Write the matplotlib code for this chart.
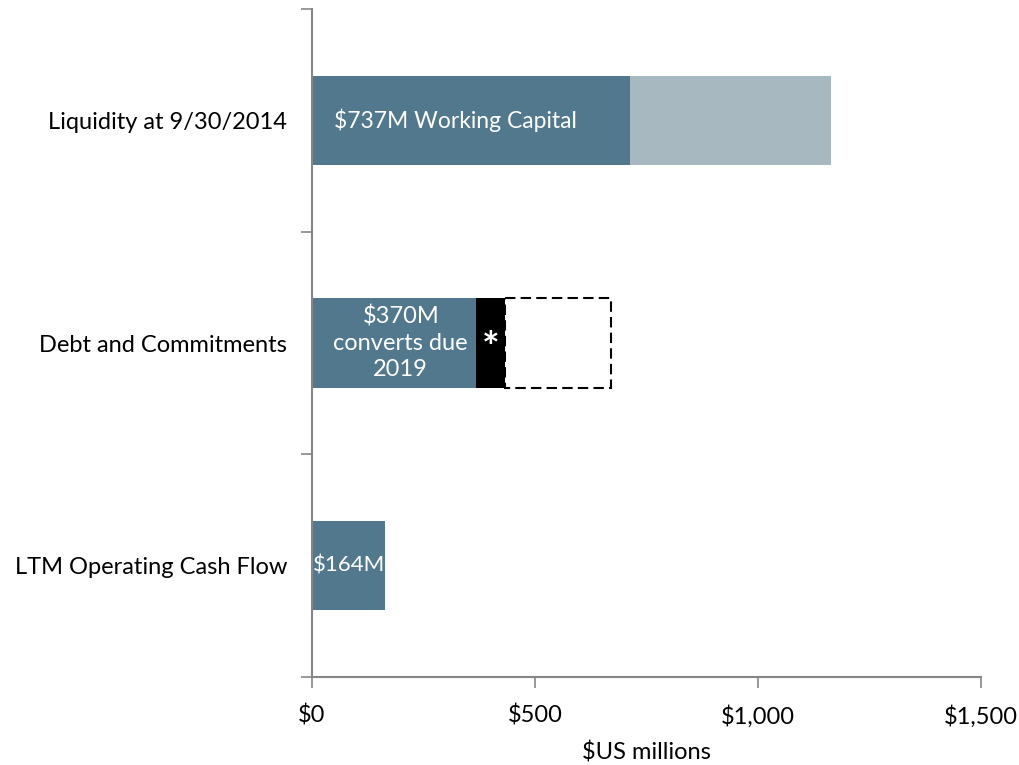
import matplotlib
matplotlib.use("Agg")
import matplotlib.pyplot as plt
import numpy as np

categories = ["Liquidity at 9/30/2014", "Debt and Commitments", "LTM Operating Cash Flow"]
seg1 = [712, 368, 164]          # dark segment
seg2 = [451, 65, 0]             # light (liquidity) / black (debt)
seg3 = [0, 238, 0]              # dashed outline box (debt)
seg1_labels = ["$737M Working Capital", "$370M\nconverts due\n2019", "$164M"]
xticks = [0, 500, 1000, 1500]
xticklabels = ["$0", "$500", "$1,000", "$1,500"]
xlabel = "$US millions"

plt.rcParams['font.family'] = ['Lato', 'DejaVu Sans']

DARK = "#52788E"
LIGHT = "#A7B8C1"
AXC = "#868686"

fig = plt.figure(figsize=(10.19, 7.65), dpi=100)
ax = fig.add_axes([312/1019, 1-677/765, (981-312)/1019, (677-9)/765])

y = np.arange(len(categories))
h = 0.4
ax.barh(y, seg1, height=h, color=DARK, edgecolor='none')
light_colors = [LIGHT, "black", LIGHT]
ax.barh(y, seg2, left=seg1, height=h, color=light_colors, edgecolor='none')
left3 = np.array(seg1) + np.array(seg2)
for i in range(len(categories)):
    if seg3[i] > 0:
        ax.barh(y[i], seg3[i], left=left3[i], height=h, facecolor='white',
                edgecolor='black', linestyle=(0, (5, 2.5)), linewidth=1.5)

# labels
ax.text(seg1[0]*0.5 - 35, y[0], seg1_labels[0], color='white', fontsize=16.5,
        ha='center', va='center')
ax.text(seg1[1]*0.5 + 15, y[1], seg1_labels[1], color='white', fontsize=17,
        ha='center', va='center', linespacing=1.32)
ax.text(seg1[2]*0.5, y[2], seg1_labels[2], color='white', fontsize=16,
        ha='center', va='center')
ax.text(seg1[1] + seg2[1]*0.5, y[1] + 0.03, "*", color='white', fontsize=30,
        fontweight='bold', ha='center', va='center')

ax.set_ylim(len(categories) - 0.5, -0.5)
ax.set_yticks([-0.5, 0.5, 1.5, 2.5])
ax.set_yticklabels([])
ax.set_yticks(y, minor=True)
ax.set_yticklabels(categories, minor=True, fontsize=17)
ax.tick_params(axis='y', which='minor', length=0, pad=18)
ax.tick_params(axis='y', which='major', length=8, width=1.2, color=AXC, direction='out')

ax.set_xlim(0, 1500)
ax.set_xticks(xticks)
ax.set_xticklabels(xticklabels, fontsize=17)
ax.tick_params(axis='x', length=8, width=1.2, color=AXC, direction='out', pad=12)
ax.set_xlabel(xlabel, fontsize=17, labelpad=10)

for s in ['top', 'right']:
    ax.spines[s].set_visible(False)
for s in ['left', 'bottom']:
    ax.spines[s].set_color(AXC)
    ax.spines[s].set_linewidth(1.5)

fig.savefig("out.png", dpi=100)
